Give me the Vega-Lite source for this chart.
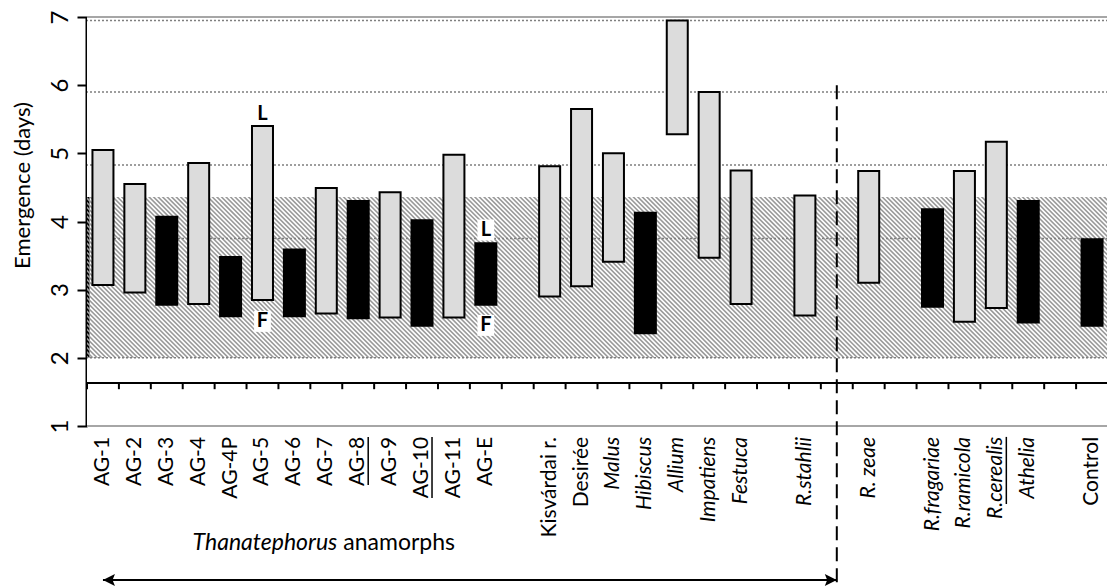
{
  "$schema": "https://vega.github.io/schema/vega-lite/v6.json",
  "width": 1021,
  "height": 409,
  "padding": {"left": 11, "top": 10, "right": 0, "bottom": 0},
  "background": "white",
  "config": {
    "view": {"stroke": null},
    "font": "Lato"
  },
  "datasets": {
    "bars": [
      {"taxon": "AG-1", "low": 3.07, "high": 5.05, "group": "open", "kind": "AG"},
      {"taxon": "AG-2", "low": 2.96, "high": 4.55, "group": "open", "kind": "AG"},
      {"taxon": "AG-3", "low": 2.78, "high": 4.07, "group": "solid", "kind": "AG"},
      {"taxon": "AG-4", "low": 2.79, "high": 4.86, "group": "open", "kind": "AG"},
      {"taxon": "AG-4P", "low": 2.61, "high": 3.48, "group": "solid", "kind": "AG"},
      {"taxon": "AG-5", "low": 2.85, "high": 5.40, "group": "open", "kind": "AG"},
      {"taxon": "AG-6", "low": 2.61, "high": 3.59, "group": "solid", "kind": "AG"},
      {"taxon": "AG-7", "low": 2.65, "high": 4.49, "group": "open", "kind": "AG"},
      {"taxon": "AG-8", "low": 2.58, "high": 4.30, "group": "solid", "kind": "AG"},
      {"taxon": "AG-9", "low": 2.59, "high": 4.43, "group": "open", "kind": "AG"},
      {"taxon": "AG-10", "low": 2.47, "high": 4.02, "group": "solid", "kind": "AG"},
      {"taxon": "AG-11", "low": 2.59, "high": 4.98, "group": "open", "kind": "AG"},
      {"taxon": "AG-E", "low": 2.78, "high": 3.68, "group": "solid", "kind": "AG"},
      {"taxon": "Kisvárdai r.", "low": 2.90, "high": 4.81, "group": "open", "kind": "cultivar"},
      {"taxon": "Desirée", "low": 3.05, "high": 5.65, "group": "open", "kind": "cultivar"},
      {"taxon": "Malus", "low": 3.41, "high": 5.00, "group": "open", "kind": "host"},
      {"taxon": "Hibiscus", "low": 2.36, "high": 4.13, "group": "solid", "kind": "host"},
      {"taxon": "Allium", "low": 5.28, "high": 6.95, "group": "open", "kind": "host"},
      {"taxon": "Impatiens", "low": 3.47, "high": 5.90, "group": "open", "kind": "host"},
      {"taxon": "Festuca", "low": 2.79, "high": 4.75, "group": "open", "kind": "host"},
      {"taxon": "R.stahlii", "low": 2.62, "high": 4.38, "group": "open", "kind": "species"},
      {"taxon": "R. zeae", "low": 3.10, "high": 4.74, "group": "open", "kind": "species"},
      {"taxon": "R.fragariae", "low": 2.75, "high": 4.18, "group": "solid", "kind": "species"},
      {"taxon": "R.ramicola", "low": 2.53, "high": 4.74, "group": "open", "kind": "species"},
      {"taxon": "R.cerealis", "low": 2.73, "high": 5.17, "group": "open", "kind": "species"},
      {"taxon": "Athelia", "low": 2.52, "high": 4.30, "group": "solid", "kind": "species"},
      {"taxon": "Control", "low": 2.47, "high": 3.74, "group": "solid", "kind": "control"}
    ],
    "slots": [
      {"taxon": "AG-1"}, {"taxon": "AG-2"}, {"taxon": "AG-3"}, {"taxon": "AG-4"}, {"taxon": "AG-4P"}, {"taxon": "AG-5"}, {"taxon": "AG-6"}, {"taxon": "AG-7"}, {"taxon": "AG-8"}, {"taxon": "AG-9"}, {"taxon": "AG-10"}, {"taxon": "AG-11"}, {"taxon": "AG-E"}, {"taxon": "gap1"}, {"taxon": "Kisvárdai r."}, {"taxon": "Desirée"}, {"taxon": "Malus"}, {"taxon": "Hibiscus"}, {"taxon": "Allium"}, {"taxon": "Impatiens"}, {"taxon": "Festuca"}, {"taxon": "gap2"}, {"taxon": "R.stahlii"}, {"taxon": "gap3"}, {"taxon": "R. zeae"}, {"taxon": "gap4"}, {"taxon": "R.fragariae"}, {"taxon": "R.ramicola"}, {"taxon": "R.cerealis"}, {"taxon": "Athelia"}, {"taxon": "gap5"}, {"taxon": "Control"}
    ],
    "notes": [
      {"taxon": "AG-5", "note": "L", "pos": 5.58},
      {"taxon": "AG-5", "note": "F", "pos": 2.535},
      {"taxon": "AG-E", "note": "L", "pos": 3.875},
      {"taxon": "AG-E", "note": "F", "pos": 2.476}
    ],
    "levels": [
      {"level": 6.95},
      {"level": 5.9},
      {"level": 4.83},
      {"level": 3.75},
      {"level": 2.0}
    ],
    "edges": [
      {"level": 7},
      {"level": 1}
    ]
  },
  "layer": [
    {
      "data": {"values": [{}]},
      "mark": {"type": "rule", "clip": true, "stroke": "#9a9a9a", "strokeWidth": 900, "strokeDash": [1.6, 1.6]},
      "encoding": {
        "x": {"datum": "AG-1", "axis": null},
        "x2": {"datum": "Control"},
        "y": {"datum": -4.075},
        "y2": {"datum": 10.436}
      }
    },
    {
      "data": {"values": [{}]},
      "mark": {"type": "rect", "fill": "white"},
      "encoding": {
        "y": {"datum": 4.36},
        "y2": {"datum": 7}
      }
    },
    {
      "data": {"values": [{}]},
      "mark": {"type": "rect", "fill": "white"},
      "encoding": {
        "y": {"datum": 1},
        "y2": {"datum": 2.0}
      }
    },
    {
      "data": {"name": "levels"},
      "mark": {"type": "rule", "stroke": "#7f7f7f", "strokeWidth": 1.5, "strokeDash": [2, 2]},
      "encoding": {"y": {"field": "level", "type": "quantitative"}}
    },
    {
      "data": {"name": "edges"},
      "mark": {"type": "rule", "stroke": "#a6a6a6", "strokeWidth": 2},
      "encoding": {"y": {"field": "level", "type": "quantitative"}}
    },
    {
      "data": {"values": [{}]},
      "mark": {"type": "rule", "stroke": "black", "strokeWidth": 2},
      "encoding": {"y": {"datum": 1.631}}
    },
    {
      "data": {"name": "slots"},
      "mark": {"type": "rule", "stroke": "black", "strokeWidth": 2},
      "encoding": {
        "x": {"field": "taxon", "type": "nominal", "bandPosition": 0, "axis": null},
        "y": {"datum": 1.631},
        "y2": {"datum": 1.54}
      }
    },
    {
      "data": {"name": "bars"},
      "mark": {"type": "bar", "width": 21, "stroke": "black", "strokeWidth": 2},
      "encoding": {
        "x": {
          "field": "taxon",
          "type": "nominal",
          "scale": {
            "domain": ["AG-1", "AG-2", "AG-3", "AG-4", "AG-4P", "AG-5", "AG-6", "AG-7", "AG-8", "AG-9", "AG-10", "AG-11", "AG-E", "gap1", "Kisvárdai r.", "Desirée", "Malus", "Hibiscus", "Allium", "Impatiens", "Festuca", "gap2", "R.stahlii", "gap3", "R. zeae", "gap4", "R.fragariae", "R.ramicola", "R.cerealis", "Athelia", "gap5", "Control"],
            "paddingInner": 0,
            "paddingOuter": 0
          },
          "axis": null
        },
        "y": {
          "field": "low",
          "type": "quantitative",
          "scale": {"domain": [1, 7], "nice": false, "zero": false},
          "axis": {
            "title": "Emergence (days)",
            "values": [1, 2, 3, 4, 5, 6, 7],
            "format": "d",
            "grid": false,
            "domainColor": "black",
            "domainWidth": 4,
            "tickColor": "black",
            "tickWidth": 2,
            "tickSize": 10,
            "labelAngle": -90,
            "labelPadding": 5,
            "labelFontSize": 24,
            "labelColor": "black",
            "titleFontSize": 22,
            "titleFontWeight": "normal",
            "titleColor": "black",
            "titlePadding": 14,
            "titleY": 168
          }
        },
        "y2": {"field": "high"},
        "fill": {"field": "group", "type": "nominal", "scale": {"domain": ["open", "solid"], "range": ["#dcdcdc", "#000000"]}, "legend": null}
      }
    },
    {
      "data": {"name": "notes"},
      "mark": {"type": "point", "shape": "M-0.6,-0.75H0.6V0.75H-0.6Z", "size": 784, "filled": true, "fill": "white", "opacity": 1, "strokeWidth": 0},
      "encoding": {
        "x": {"field": "taxon", "type": "nominal", "axis": null},
        "y": {"field": "pos", "type": "quantitative"}
      }
    },
    {
      "data": {"name": "notes"},
      "mark": {"type": "text", "fontWeight": "bold", "fontSize": 20, "color": "black", "align": "center", "baseline": "middle"},
      "encoding": {
        "x": {"field": "taxon", "type": "nominal", "axis": null},
        "y": {"field": "pos", "type": "quantitative"},
        "text": {"field": "note"}
      }
    },
    {
      "data": {"values": [{}]},
      "mark": {"type": "rule", "stroke": "black", "strokeWidth": 2, "strokeDash": [14, 7]},
      "encoding": {
        "x": {"datum": "gap3", "axis": null},
        "y": {"datum": 6.0},
        "y2": {"datum": -1.33}
      }
    },
    {
      "data": {"values": [{}]},
      "mark": {"type": "rule", "stroke": "black", "strokeWidth": 2},
      "encoding": {
        "x": {"datum": "AG-1", "axis": null},
        "x2": {"datum": "gap3"},
        "y": {"datum": -1.259}
      }
    },
    {
      "data": {"values": [{}]},
      "mark": {"type": "point", "shape": "M0,0L2,-1L1.6,0L2,1Z", "size": 144, "filled": true, "fill": "black", "opacity": 1, "strokeWidth": 0},
      "encoding": {
        "x": {"datum": "AG-1", "axis": null},
        "y": {"datum": -1.259}
      }
    },
    {
      "data": {"values": [{}]},
      "mark": {"type": "point", "shape": "M0,0L-2,-1L-1.6,0L-2,1Z", "size": 144, "filled": true, "fill": "black", "opacity": 1, "strokeWidth": 0},
      "encoding": {
        "x": {"datum": "gap3", "axis": null},
        "y": {"datum": -1.259}
      }
    },
    {
      "data": {"name": "bars"},
      "transform": [{"filter": "datum.kind != 'host' && datum.kind != 'species'"}],
      "mark": {"type": "text", "angle": 270, "align": "right", "baseline": "middle", "fontSize": 21, "color": "black"},
      "encoding": {
        "x": {"field": "taxon", "type": "nominal", "axis": null},
        "y": {"datum": 0.84},
        "text": {"field": "taxon"}
      }
    },
    {
      "data": {"name": "bars"},
      "transform": [{"filter": "datum.kind == 'host' || datum.kind == 'species'"}],
      "mark": {"type": "text", "angle": 270, "align": "right", "baseline": "middle", "fontSize": 21, "fontStyle": "italic", "color": "black"},
      "encoding": {
        "x": {"field": "taxon", "type": "nominal", "axis": null},
        "y": {"datum": 0.84},
        "text": {"field": "taxon"}
      }
    },
    {
      "data": {"values": [{}]},
      "mark": {"type": "rule", "stroke": "black", "strokeWidth": 1.5, "xOffset": 10},
      "encoding": {
        "x": {"datum": "AG-8", "axis": null},
        "y": {"datum": 0.84},
        "y2": {"datum": 0.135}
      }
    },
    {
      "data": {"values": [{}]},
      "mark": {"type": "rule", "stroke": "black", "strokeWidth": 1.5, "xOffset": 10},
      "encoding": {
        "x": {"datum": "AG-10", "axis": null},
        "y": {"datum": 0.84},
        "y2": {"datum": -0.056}
      }
    },
    {
      "data": {"values": [{}]},
      "mark": {"type": "rule", "stroke": "black", "strokeWidth": 1.5, "xOffset": 10},
      "encoding": {
        "x": {"datum": "R.cerealis", "axis": null},
        "y": {"datum": 0.84},
        "y2": {"datum": -0.144}
      }
    },
    {
      "data": {"values": [{"label": "Thanatephorus"}]},
      "mark": {"type": "text", "fontSize": 23, "fontStyle": "italic", "color": "black", "align": "right", "baseline": "alphabetic", "dx": 11},
      "encoding": {
        "x": {"datum": "AG-7", "axis": null},
        "y": {"datum": -0.82},
        "text": {"field": "label"}
      }
    },
    {
      "data": {"values": [{"label": "anamorphs"}]},
      "mark": {"type": "text", "fontSize": 23, "color": "black", "align": "left", "baseline": "alphabetic", "dx": 17},
      "encoding": {
        "x": {"datum": "AG-7", "axis": null},
        "y": {"datum": -0.82},
        "text": {"field": "label"}
      }
    }
  ]
}
